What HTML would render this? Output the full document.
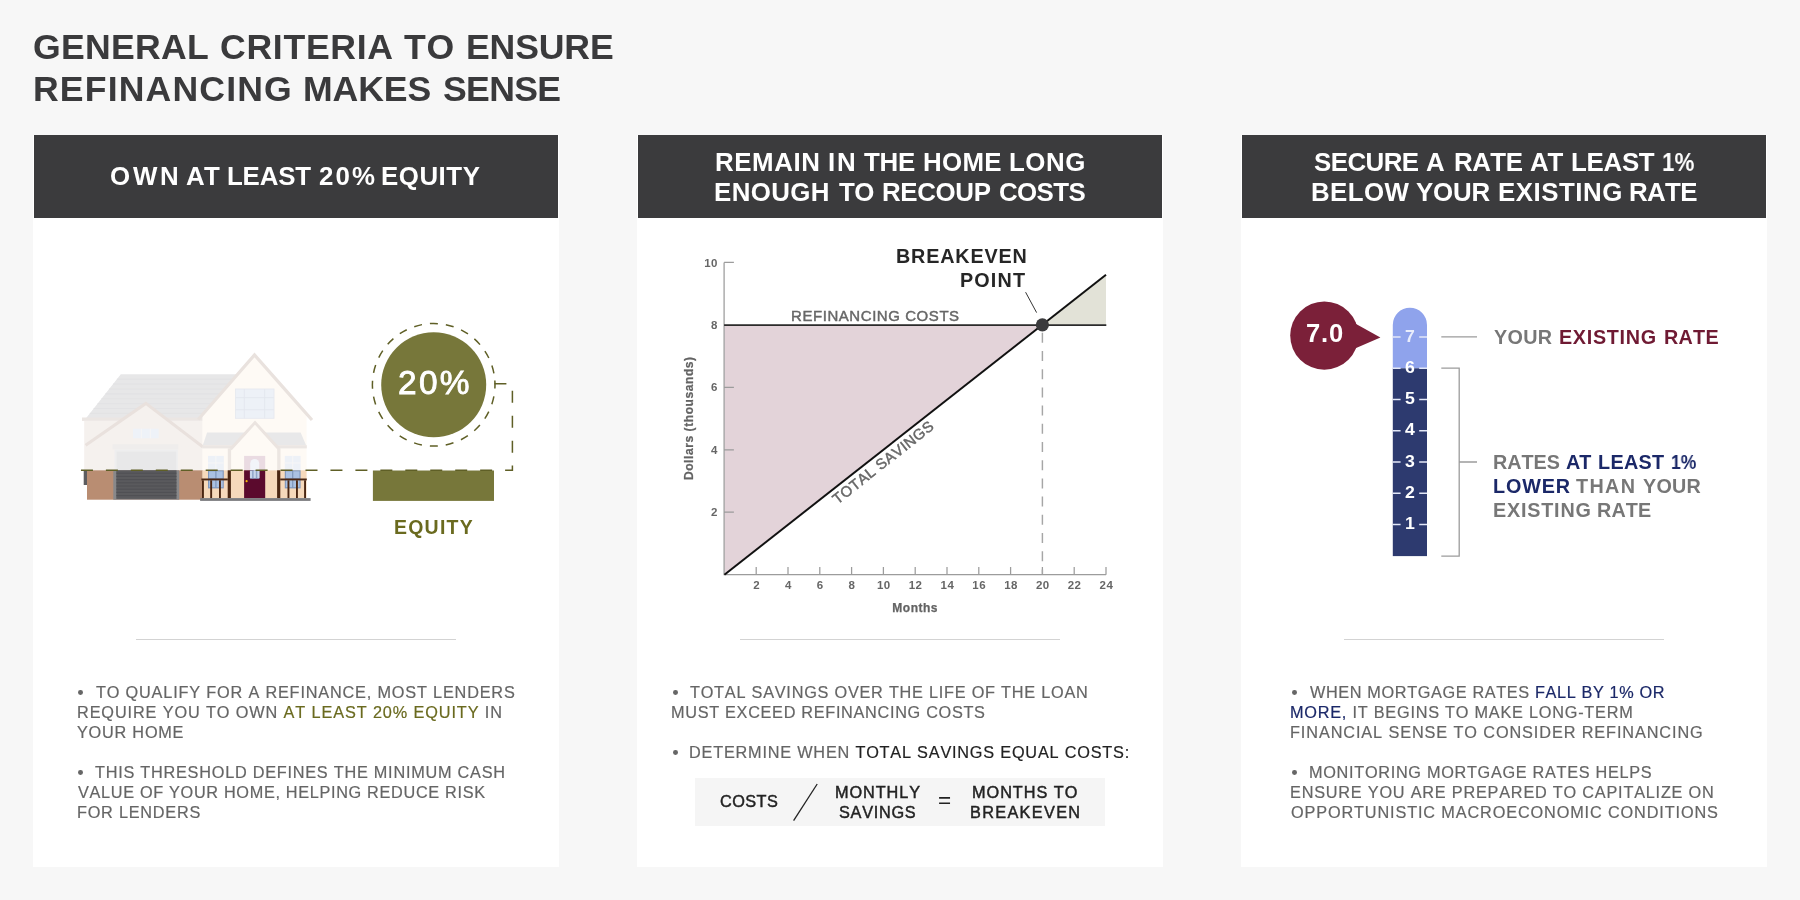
<!DOCTYPE html>
<html lang="en"><head><meta charset="utf-8">
<title>General criteria to ensure refinancing makes sense</title>
<style>
*{box-sizing:border-box;margin:0;padding:0}
html,body{width:1800px;height:900px;overflow:hidden}
body{position:relative;background:#f7f7f7;font-family:"Liberation Sans",sans-serif;color:#656565;font-kerning:none;-webkit-font-smoothing:antialiased}
.ln{position:absolute;white-space:nowrap;display:block;font-weight:400;will-change:transform}
.ln b{font-weight:inherit}
.md{-webkit-text-stroke:0.45px currentColor}
.hv{-webkit-text-stroke:0.85px currentColor}
.txt .ln{-webkit-text-stroke:0.2px currentColor}
h1{font-size:inherit;font-weight:inherit;color:#3a3a3c}
h2{font-size:inherit;font-weight:inherit;color:#fff}
.card{position:absolute;top:135px;height:732px;background:#fff}
.head{position:absolute;left:1px;right:1px;top:0;height:82.6px;background:#3b3b3d}
.art{position:absolute;left:0;top:83px;overflow:visible;will-change:transform}
.rule{position:absolute;left:103.1px;width:320px;top:503.7px;height:1.3px;background:#d3d3d3;border:0}
.txt{list-style:none}
.dot{position:absolute;width:4.8px;height:4.8px;border-radius:50%;background:#666}
.ol{color:#6a6a1f}.dk{color:#222}.nv{color:#1b2868}.mr{color:#6f1a33}
.fbox{position:absolute;left:57.7px;top:643.1px;width:410.2px;height:47.7px;background:#f5f5f5}
svg text{font-family:"Liberation Sans",sans-serif}
</style></head><body>
<h1><span class="ln" style="left:32.94px;top:25.75px;font-size:35.61px;line-height:43px;letter-spacing:0.258px;font-weight:700;">GENERAL</span> <span class="ln" style="left:219.54px;top:25.75px;font-size:35.61px;line-height:43px;letter-spacing:0.705px;font-weight:700;">CRITERIA</span> <span class="ln" style="left:404.10px;top:25.75px;font-size:35.61px;line-height:43px;letter-spacing:0.743px;font-weight:700;">TO</span> <span class="ln" style="left:465.92px;top:25.75px;font-size:35.61px;line-height:43px;letter-spacing:-0.147px;font-weight:700;">ENSURE</span> <span class="ln" style="left:32.62px;top:67.75px;font-size:35.61px;line-height:43px;letter-spacing:1.150px;font-weight:700;">REFINANCING</span> <span class="ln" style="left:302.62px;top:67.75px;font-size:35.61px;line-height:43px;letter-spacing:-0.083px;font-weight:700;">MAKES</span> <span class="ln" style="left:442.87px;top:67.75px;font-size:35.61px;line-height:43px;letter-spacing:-0.677px;font-weight:700;">SENSE</span></h1>
<section class="card" style="left:33px;width:526px">
<header class="head"><h2><span class="ln" style="left:76.44px;top:26.23px;font-size:25.87px;line-height:31px;letter-spacing:2.788px;font-weight:700;">OWN</span> <span class="ln" style="left:152.06px;top:26.23px;font-size:25.87px;line-height:31px;letter-spacing:-0.766px;font-weight:700;">AT</span> <span class="ln" style="left:192.97px;top:26.23px;font-size:25.87px;line-height:31px;letter-spacing:-0.174px;font-weight:700;">LEAST</span> <span class="ln" style="left:284.80px;top:26.23px;font-size:25.87px;line-height:31px;letter-spacing:2.148px;font-weight:700;">20%</span> <span class="ln" style="left:347.07px;top:26.23px;font-size:25.87px;line-height:31px;letter-spacing:0.527px;font-weight:700;">EQUITY</span></h2></header>
<svg class="art" width="526" height="410" viewBox="33 218 526 410" aria-hidden="true"><g class="faded"><polygon points="120.8,374.2 240,374.2 206,418.4 85.8,418.4" fill="#e7e7e8"/><line x1="116.9" y1="379.1" x2="238" y2="379.1" stroke="#e1e1e2" stroke-width="0.8"/><line x1="113.0" y1="384.0" x2="238" y2="384.0" stroke="#e1e1e2" stroke-width="0.8"/><line x1="109.2" y1="388.9" x2="238" y2="388.9" stroke="#e1e1e2" stroke-width="0.8"/><line x1="105.3" y1="393.8" x2="238" y2="393.8" stroke="#e1e1e2" stroke-width="0.8"/><line x1="101.4" y1="398.7" x2="238" y2="398.7" stroke="#e1e1e2" stroke-width="0.8"/><line x1="97.5" y1="403.6" x2="238" y2="403.6" stroke="#e1e1e2" stroke-width="0.8"/><line x1="93.6" y1="408.5" x2="238" y2="408.5" stroke="#e1e1e2" stroke-width="0.8"/><line x1="89.8" y1="413.4" x2="238" y2="413.4" stroke="#e1e1e2" stroke-width="0.8"/><rect x="82" y="417.5" width="123" height="3.4" fill="#ebe6e3"/><rect x="84.2" y="420.8" width="118.6" height="49.5" fill="#f5f1ee"/><polygon points="254.5,355.5 306.6,415 306.6,470.3 202.4,470.3 202.4,415" fill="#fefaf5"/><polygon points="86,445.6 145.8,404 202.6,447" fill="#f5f1ee"/><polyline points="198.2,419.5 254.5,355 312,420" fill="none" stroke="#e9e2de" stroke-width="3.2" stroke-linejoin="miter"/><polyline points="85.6,445.3 145.8,403.4 203,447" fill="none" stroke="#e9e1dd" stroke-width="3" stroke-linejoin="miter"/><rect x="133" y="428.7" width="25.7" height="9.6" fill="#eef2f8"/><path d="M141.3 428.7V438.3M150.3 428.7V438.3" stroke="#f7f6f5" stroke-width="1"/><rect x="112.5" y="444.2" width="65.8" height="5.2" fill="#efedec"/><rect x="114.6" y="449.4" width="63.2" height="20.9" fill="#eeeeef"/><rect x="116.6" y="451.6" width="59.6" height="18.7" fill="#e8e8e9"/><rect x="235.5" y="389" width="38.5" height="29.3" fill="#edf1f7"/><path d="M244.4 389V418.3M264.6 389V418.3M235.5 397.6H274M235.5 409.8H274" stroke="#e3e7ee" stroke-width="0.9" fill="none"/><rect x="235.5" y="389" width="38.5" height="29.3" fill="none" stroke="#e6e9ef" stroke-width="0.9"/><polygon points="207.1,432.4 300.6,432.4 306.1,445.2 202.8,445.2" fill="#e8e8e9"/><rect x="202.4" y="445.2" width="104.4" height="3.2" fill="#ebe6e3"/><polygon points="255,424.5 277,448.4 277,470.3 232.6,470.3 232.6,448.4" fill="#fefaf5"/><polyline points="230.6,449.2 255,422.6 279.2,449.2" fill="none" stroke="#ebe4e0" stroke-width="3" stroke-linejoin="miter"/><rect x="227.8" y="448.4" width="3.3" height="21.9" fill="#ece6e2"/><rect x="277.2" y="448.4" width="3.3" height="21.9" fill="#ece6e2"/><rect x="208.0" y="455.9" width="15.8" height="14.4" fill="#edf1f7"/><path d="M215.9 455.9V470.3M208.0 463H223.8" stroke="#f8f7f6" stroke-width="0.9"/><rect x="284.8" y="455.9" width="15.8" height="14.4" fill="#edf1f7"/><path d="M292.7 455.9V470.3M284.8 463H300.6" stroke="#f8f7f6" stroke-width="0.9"/><rect x="244.1" y="455.9" width="21.1" height="14.4" fill="#eadbe2"/><path d="M250.2 470.3V463.5A4.5 4.5 0 0 1 259.2 463.5V470.3Z" fill="#f2f4f9"/></g><g class="equity-part"><rect x="83.7" y="470.9" width="3.3" height="14.1" fill="#5c5c5f"/><rect x="87" y="470.3" width="115.8" height="29.4" fill="#b98d72"/><rect x="113.3" y="470.3" width="65.9" height="29.4" fill="#88888a"/><rect x="116.3" y="470.3" width="60.2" height="28.6" fill="#5a5a5d"/><path d="M116.3 473.2H176.5M116.3 476.4H176.5M116.3 479.6H176.5M116.3 482.8H176.5M116.3 486.0H176.5M116.3 489.2H176.5M116.3 492.4H176.5M116.3 495.6H176.5" stroke="#4d4d50" stroke-width="0.8"/><rect x="202.4" y="470.3" width="104.2" height="27.9" fill="#f6d9bb"/><rect x="208.0" y="470.3" width="15.8" height="18.1" fill="#7f97bd"/><rect x="209.1" y="471.3" width="6.2" height="7" fill="#aac1e2"/><rect x="216.5" y="471.3" width="6.2" height="7" fill="#aac1e2"/><rect x="209.1" y="479.6" width="6.2" height="7.6" fill="#aac1e2"/><rect x="216.5" y="479.6" width="6.2" height="7.6" fill="#aac1e2"/><rect x="284.8" y="470.3" width="15.8" height="18.1" fill="#7f97bd"/><rect x="285.9" y="471.3" width="6.2" height="7" fill="#aac1e2"/><rect x="293.3" y="471.3" width="6.2" height="7" fill="#aac1e2"/><rect x="285.9" y="479.6" width="6.2" height="7.6" fill="#aac1e2"/><rect x="293.3" y="479.6" width="6.2" height="7.6" fill="#aac1e2"/><rect x="244.1" y="470.3" width="21.1" height="27.9" fill="#5b0a2d"/><rect x="250.1" y="470.3" width="9.2" height="8.5" fill="#8fa5c8"/><path d="M251 471V478M254.7 470.3V478M258.4 471V478" stroke="#c7d5ea" stroke-width="2.2"/><circle cx="246.6" cy="481.2" r="1.1" fill="#f2b705"/><rect x="227.7" y="470.3" width="3.2" height="27.9" fill="#4a2612"/><rect x="277.1" y="470.3" width="3.2" height="27.9" fill="#4a2612"/><rect x="201.4" y="478.5" width="26.4" height="1.9" fill="#4a2612"/><rect x="280.2" y="478.5" width="26.6" height="1.9" fill="#4a2612"/><rect x="202.0" y="480.3" width="1.9" height="17.9" fill="#4a2612"/><rect x="210.2" y="480.3" width="1.9" height="17.9" fill="#4a2612"/><rect x="219.0" y="480.3" width="1.9" height="17.9" fill="#4a2612"/><rect x="287.5" y="480.3" width="1.9" height="17.9" fill="#4a2612"/><rect x="296.0" y="480.3" width="1.9" height="17.9" fill="#4a2612"/><rect x="304.1" y="480.3" width="1.9" height="17.9" fill="#4a2612"/><rect x="200.1" y="498.1" width="110.5" height="2.8" fill="#7c7c7f"/></g><circle cx="433.7" cy="384.8" r="52.5" fill="#77773a"/><circle cx="433.7" cy="384.8" r="61.3" fill="none" stroke="#5f5f26" stroke-width="1.5" stroke-dasharray="8 8.05" transform="rotate(-4 433.7 384.8)"/><rect x="372.9" y="470.5" width="121.1" height="30.4" fill="#77773a"/><path d="M494.4 383.8H512.4V470.3H80.6" fill="none" stroke="#5f5f26" stroke-width="1.5" stroke-dasharray="12 12.95"/></svg>
<div class="lbl"><span class="ln hv" style="left:364.62px;top:228.01px;font-size:33.43px;line-height:40px;letter-spacing:2.331px;color:#fff;">20%</span> <span class="ln" style="left:360.80px;top:381.05px;font-size:19.48px;line-height:23px;letter-spacing:1.242px;font-weight:700;color:#6a6a1f;">EQUITY</span></div>
<hr class="rule">
<div class="txt"><i class="dot" style="left:44.9px;top:554.9px"></i><i class="dot" style="left:44.9px;top:634.9px"></i><p class="ln" style="left:63.23px;top:547.26px;font-size:16.28px;line-height:20px;letter-spacing:0.820px;">TO QUALIFY FOR A REFINANCE, MOST LENDERS</p><p class="ln" style="left:43.66px;top:567.26px;font-size:16.28px;line-height:20px;letter-spacing:0.885px;">REQUIRE YOU TO OWN <b class="ol">AT LEAST 20% EQUITY</b> IN</p><p class="ln" style="left:44.34px;top:587.26px;font-size:16.28px;line-height:20px;letter-spacing:0.770px;">YOUR HOME</p><p class="ln" style="left:62.43px;top:627.26px;font-size:16.28px;line-height:20px;letter-spacing:0.753px;">THIS THRESHOLD DEFINES THE MINIMUM CASH</p><p class="ln" style="left:44.63px;top:647.26px;font-size:16.28px;line-height:20px;letter-spacing:0.674px;">VALUE OF YOUR HOME, HELPING REDUCE RISK</p><p class="ln" style="left:43.66px;top:667.26px;font-size:16.28px;line-height:20px;letter-spacing:0.760px;">FOR LENDERS</p></div>
</section>
<section class="card" style="left:637px;width:526px">
<header class="head"><h2><span class="ln" style="left:77.47px;top:11.63px;font-size:25.87px;line-height:31px;letter-spacing:0.585px;font-weight:700;">REMAIN</span> <span class="ln" style="left:190.27px;top:11.63px;font-size:25.87px;line-height:31px;letter-spacing:1.802px;font-weight:700;">IN</span> <span class="ln" style="left:225.91px;top:11.63px;font-size:25.87px;line-height:31px;letter-spacing:-0.222px;font-weight:700;">THE</span> <span class="ln" style="left:284.97px;top:11.63px;font-size:25.87px;line-height:31px;letter-spacing:0.308px;font-weight:700;">HOME</span> <span class="ln" style="left:370.97px;top:11.63px;font-size:25.87px;line-height:31px;letter-spacing:0.566px;font-weight:700;">LONG</span> <span class="ln" style="left:76.47px;top:41.63px;font-size:25.87px;line-height:31px;letter-spacing:0.403px;font-weight:700;">ENOUGH</span> <span class="ln" style="left:200.91px;top:41.63px;font-size:25.87px;line-height:31px;letter-spacing:-0.451px;font-weight:700;">TO</span> <span class="ln" style="left:244.47px;top:41.63px;font-size:25.87px;line-height:31px;letter-spacing:-0.335px;font-weight:700;">RECOUP</span> <span class="ln" style="left:360.84px;top:41.63px;font-size:25.87px;line-height:31px;letter-spacing:-0.589px;font-weight:700;">COSTS</span></h2></header>
<svg class="art" width="526" height="410" viewBox="637 218 526 410" aria-hidden="true"><polygon points="724.4,324.8 1042.4,324.8 724.4,574.7" fill="#e3d3d9"/><polygon points="1042.4,324.8 1106.0,324.8 1106.0,274.8" fill="#e2e2d7"/><path d="M724.1 262.4V574.7H1106.0M724.1 512.2h9.8M724.1 449.8h9.8M724.1 387.3h9.8M724.1 262.4h9.8M756.2 574.7v-7.6M788.0 574.7v-7.6M819.8 574.7v-7.6M851.6 574.7v-7.6M883.4 574.7v-7.6M915.2 574.7v-7.6M947.0 574.7v-7.6M978.8 574.7v-7.6M1010.6 574.7v-7.6M1042.4 574.7v-7.6M1074.2 574.7v-7.6M1106.0 574.7v-7.6" fill="none" stroke="#9c9c9c" stroke-width="1.25"/><path d="M1042.4 332.8V573.7" stroke="#a6a6a6" stroke-width="1.45" stroke-dasharray="10 8.2" fill="none"/><path d="M724.1 325.1H1106.3" stroke="#2b2b2b" stroke-width="1.7" fill="none"/><path d="M724.4 574.7L1106.0 274.8" stroke="#111" stroke-width="2" fill="none"/><path d="M1025.6 292.2L1036.6 312.6" stroke="#333" stroke-width="1" fill="none"/><circle cx="1042.4" cy="324.8" r="6.6" fill="#3a3a3c"/><g font-size="11.5" font-weight="700" fill="#666" letter-spacing="0.45"><text x="756.6" y="589.3" text-anchor="middle">2</text><text x="788.4" y="589.3" text-anchor="middle">4</text><text x="820.2" y="589.3" text-anchor="middle">6</text><text x="852.0" y="589.3" text-anchor="middle">8</text><text x="883.8" y="589.3" text-anchor="middle">10</text><text x="915.6" y="589.3" text-anchor="middle">12</text><text x="947.4" y="589.3" text-anchor="middle">14</text><text x="979.2" y="589.3" text-anchor="middle">16</text><text x="1011.0" y="589.3" text-anchor="middle">18</text><text x="1042.8" y="589.3" text-anchor="middle">20</text><text x="1074.6" y="589.3" text-anchor="middle">22</text><text x="1106.4" y="589.3" text-anchor="middle">24</text><text x="717.9" y="516.3" text-anchor="end">2</text><text x="717.9" y="453.9" text-anchor="end">4</text><text x="717.9" y="391.4" text-anchor="end">6</text><text x="717.9" y="328.9" text-anchor="end">8</text><text x="717.9" y="266.5" text-anchor="end">10</text></g><text x="915.2" y="612" font-size="12" font-weight="700" fill="#636363" stroke="#636363" stroke-width="0.25" text-anchor="middle" letter-spacing="0.5">Months</text><text transform="translate(693.4 418.2) rotate(-90)" font-size="12" font-weight="700" fill="#636363" stroke="#636363" stroke-width="0.25" text-anchor="middle" letter-spacing="0.58">Dollars (thousands)</text><text transform="translate(837.4 504.8) rotate(-38.16)" font-size="14.9" fill="#676767" stroke="#676767" stroke-width="0.45" textLength="124" lengthAdjust="spacing">TOTAL SAVINGS</text></svg>
<div class="lbl"><span class="ln" style="left:258.78px;top:108.75px;font-size:19.77px;line-height:24px;letter-spacing:0.830px;font-weight:700;color:#262626;">BREAKEVEN</span> <span class="ln" style="left:323.38px;top:132.75px;font-size:19.77px;line-height:24px;letter-spacing:1.158px;font-weight:700;color:#262626;">POINT</span> <span class="ln md" style="left:153.77px;top:172.01px;font-size:14.97px;line-height:18px;letter-spacing:0.578px;color:#676767;">REFINANCING COSTS</span></div>
<hr class="rule">
<div class="txt"><i class="dot" style="left:35.8px;top:554.9px"></i><i class="dot" style="left:35.8px;top:614.9px"></i><p class="ln" style="left:53.23px;top:547.26px;font-size:16.28px;line-height:20px;letter-spacing:0.764px;">TOTAL SAVINGS OVER THE LIFE OF THE LOAN</p><p class="ln" style="left:34.06px;top:567.26px;font-size:16.28px;line-height:20px;letter-spacing:0.690px;">MUST EXCEED REFINANCING COSTS</p><p class="ln" style="left:52.26px;top:607.26px;font-size:16.28px;line-height:20px;letter-spacing:0.792px;">DETERMINE WHEN <b class="dk">TOTAL SAVINGS EQUAL COSTS:</b></p></div>
<div class="fbox"></div><svg class="art" style="top:0" width="526" height="732" viewBox="637 135 526 732"><path d="M793.6 820.6 L817.2 784" stroke="#222" stroke-width="1.3" fill="none"/></svg>
<div class="formula"><span class="ln md" style="left:83.47px;top:656.46px;font-size:16.28px;line-height:20px;letter-spacing:0.424px;color:#222;">COSTS</span><span class="ln md" style="left:197.76px;top:647.06px;font-size:16.28px;line-height:20px;letter-spacing:0.917px;color:#222;">MONTHLY</span><span class="ln md" style="left:202.16px;top:667.26px;font-size:16.28px;line-height:20px;letter-spacing:0.719px;color:#222;">SAVINGS</span><span class="ln" style="left:300.50px;top:652.28px;font-size:22.50px;line-height:27px;letter-spacing:0.000px;color:#222;">=</span><span class="ln md" style="left:335.36px;top:647.06px;font-size:16.28px;line-height:20px;letter-spacing:0.968px;color:#222;">MONTHS TO</span><span class="ln md" style="left:333.26px;top:667.26px;font-size:16.28px;line-height:20px;letter-spacing:1.330px;color:#222;">BREAKEVEN</span></div>
</section>
<section class="card" style="left:1241px;width:526px">
<header class="head"><h2><span class="ln" style="left:71.95px;top:11.63px;font-size:25.87px;line-height:31px;letter-spacing:-0.553px;font-weight:700;">SECURE</span> <span class="ln" style="left:184.06px;top:11.63px;font-size:25.87px;line-height:31px;letter-spacing:0.000px;font-weight:700;">A</span> <span class="ln" style="left:211.57px;top:11.63px;font-size:25.87px;line-height:31px;letter-spacing:-0.496px;font-weight:700;">RATE</span> <span class="ln" style="left:287.86px;top:11.63px;font-size:25.87px;line-height:31px;letter-spacing:-1.066px;font-weight:700;">AT</span> <span class="ln" style="left:328.77px;top:11.63px;font-size:25.87px;line-height:31px;letter-spacing:-0.274px;font-weight:700;">LEAST</span> <span class="ln" style="left:419.59px;top:11.63px;font-size:25.87px;line-height:31px;letter-spacing:0.000px;font-weight:700;transform:scaleX(0.8637);transform-origin:0 0;">1%</span> <span class="ln" style="left:69.27px;top:41.63px;font-size:25.87px;line-height:31px;letter-spacing:0.417px;font-weight:700;">BELOW</span> <span class="ln" style="left:174.26px;top:41.63px;font-size:25.87px;line-height:31px;letter-spacing:-0.159px;font-weight:700;">YOUR</span> <span class="ln" style="left:256.07px;top:41.63px;font-size:25.87px;line-height:31px;letter-spacing:0.511px;font-weight:700;">EXISTING</span> <span class="ln" style="left:386.77px;top:41.63px;font-size:25.87px;line-height:31px;letter-spacing:-0.629px;font-weight:700;">RATE</span></h2></header>
<svg class="art" width="526" height="410" viewBox="1241 218 526 410" aria-hidden="true"><path d="M1392.8 368.3V324.9A17.1 17.1 0 0 1 1427 324.9V368.3Z" fill="#8fa3ec"/><rect x="1392.8" y="368.3" width="34.2" height="187.8" fill="#2d3a6f"/><path d="M1392.8 337.0h7.8M1419.2 337.0h7.8M1392.8 368.2h7.8M1419.2 368.2h7.8M1392.8 399.5h7.8M1419.2 399.5h7.8M1392.8 430.8h7.8M1419.2 430.8h7.8M1392.8 462.0h7.8M1419.2 462.0h7.8M1392.8 493.3h7.8M1419.2 493.3h7.8M1392.8 524.5h7.8M1419.2 524.5h7.8" stroke="#e3e8f8" stroke-width="1.6" fill="none"/><g font-size="15.8" font-weight="700" fill="#fff" text-anchor="middle"><text transform="translate(1409.9 341.5) scale(1.12 1)" fill-opacity="0.8">7</text><text transform="translate(1409.9 372.7) scale(1.12 1)">6</text><text transform="translate(1409.9 404.0) scale(1.12 1)">5</text><text transform="translate(1409.9 435.3) scale(1.12 1)">4</text><text transform="translate(1409.9 466.5) scale(1.12 1)">3</text><text transform="translate(1409.9 497.8) scale(1.12 1)">2</text><text transform="translate(1409.9 529.0) scale(1.12 1)">1</text></g><circle cx="1324.3" cy="335.6" r="34.1" fill="#7b2039"/><polygon points="1348,319.6 1380.4,337.5 1348,351.5" fill="#7b2039"/><path d="M1441.3 336.8H1477M1441.3 368.2H1459.2V556.1H1441.3M1459.2 462H1477" fill="none" stroke="#9c9c9c" stroke-width="1.3"/></svg>
<div class="lbl"><span class="ln" style="left:64.50px;top:183.23px;font-size:25.58px;line-height:31px;letter-spacing:0.843px;font-weight:700;color:#fff;">7.0</span> <span class="ln" style="left:253.36px;top:189.75px;font-size:19.77px;line-height:24px;letter-spacing:0.310px;font-weight:700;color:#777;">YOUR</span> <span class="ln" style="left:318.48px;top:189.75px;font-size:19.77px;line-height:24px;letter-spacing:0.683px;font-weight:700;color:#6f1a33;">EXISTING</span> <span class="ln" style="left:422.68px;top:189.75px;font-size:19.77px;line-height:24px;letter-spacing:0.261px;font-weight:700;color:#6f1a33;">RATE</span> <span class="ln" style="left:251.58px;top:315.35px;font-size:19.77px;line-height:24px;letter-spacing:-0.025px;font-weight:700;color:#777;">RATES</span> <span class="ln" style="left:325.21px;top:315.35px;font-size:19.77px;line-height:24px;letter-spacing:-1.046px;font-weight:700;color:#1b2868;">AT</span> <span class="ln" style="left:357.38px;top:315.35px;font-size:19.77px;line-height:24px;letter-spacing:0.310px;font-weight:700;color:#1b2868;">LEAST</span> <span class="ln" style="left:430.40px;top:315.35px;font-size:19.77px;line-height:24px;letter-spacing:0.000px;font-weight:700;color:#1b2868;transform:scaleX(0.8842);transform-origin:0 0;">1%</span> <span class="ln" style="left:251.58px;top:339.35px;font-size:19.77px;line-height:24px;letter-spacing:0.865px;font-weight:700;color:#1b2868;">LOWER</span> <span class="ln" style="left:335.48px;top:339.35px;font-size:19.77px;line-height:24px;letter-spacing:1.384px;font-weight:700;color:#777;">THAN</span> <span class="ln" style="left:402.46px;top:339.35px;font-size:19.77px;line-height:24px;letter-spacing:0.210px;font-weight:700;color:#777;">YOUR</span> <span class="ln" style="left:251.58px;top:363.35px;font-size:19.77px;line-height:24px;letter-spacing:0.797px;font-weight:700;color:#777;">EXISTING</span> <span class="ln" style="left:355.98px;top:363.35px;font-size:19.77px;line-height:24px;letter-spacing:0.161px;font-weight:700;color:#777;">RATE</span></div>
<hr class="rule">
<div class="txt"><i class="dot" style="left:51.1px;top:554.9px"></i><i class="dot" style="left:51.1px;top:634.9px"></i><p class="ln" style="left:68.93px;top:547.26px;font-size:16.28px;line-height:20px;letter-spacing:0.629px;">WHEN MORTGAGE RATES <b class="nv">FALL BY 1% OR</b></p><p class="ln" style="left:49.26px;top:567.26px;font-size:16.28px;line-height:20px;letter-spacing:0.769px;"><b class="nv">MORE,</b> IT BEGINS TO MAKE LONG-TERM</p><p class="ln" style="left:49.26px;top:587.26px;font-size:16.28px;line-height:20px;letter-spacing:0.896px;">FINANCIAL SENSE TO CONSIDER REFINANCING</p><p class="ln" style="left:67.66px;top:627.26px;font-size:16.28px;line-height:20px;letter-spacing:0.699px;">MONITORING MORTGAGE RATES HELPS</p><p class="ln" style="left:49.26px;top:647.26px;font-size:16.28px;line-height:20px;letter-spacing:0.784px;">ENSURE YOU ARE PREPARED TO CAPITALIZE ON</p><p class="ln" style="left:49.83px;top:667.26px;font-size:16.28px;line-height:20px;letter-spacing:0.864px;">OPPORTUNISTIC MACROECONOMIC CONDITIONS</p></div>
</section>
</body></html>
